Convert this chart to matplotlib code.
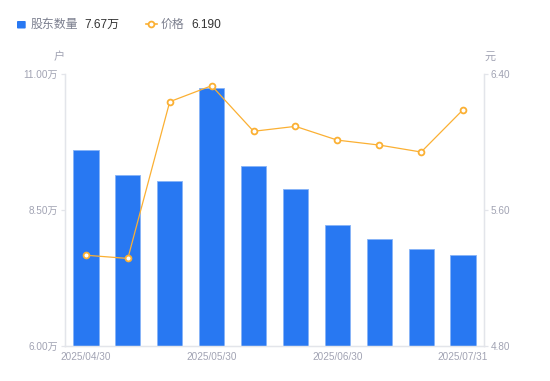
import matplotlib
matplotlib.use("Agg")
import matplotlib.pyplot as plt
from matplotlib.patches import FancyBboxPatch
from matplotlib.lines import Line2D

plt.rcParams['font.family'] = ['Liberation Sans', 'Noto Sans CJK SC', 'DejaVu Sans']

dates = ["2025/04/30", "2025/05/09", "2025/05/20", "2025/05/30", "2025/06/10",
         "2025/06/20", "2025/06/30", "2025/07/10", "2025/07/20", "2025/07/31"]
holders = [9.60, 9.15, 9.03, 10.74, 9.31, 8.88, 8.22, 7.97, 7.79, 7.67]  # 万户
price = [5.334, 5.315, 6.237, 6.331, 6.063, 6.092, 6.011, 5.982, 5.941, 6.190]
left_ticks = [6.00, 8.50, 11.00]
right_ticks = [4.80, 5.60, 6.40]
shown_labels = [0, 3, 6, 9]

W, H = 550, 381
fig = plt.figure(figsize=(W / 100, H / 100), dpi=100)
L, R, T, B = 65, 484, 74, 346
ax = fig.add_axes([L / W, 1 - B / H, (R - L) / W, (B - T) / H])
ax2 = ax.twinx()

grey_axis = "#e3e5ea"
lab_col = "#a1a3b3"
blue = "#2878f2"
orange = "#fbb033"

x = list(range(len(dates)))
ax.bar(x, holders, width=0.6, color=blue, edgecolor="#86b3f7", linewidth=0.6, zorder=2)
ax.set_xlim(-0.5, len(dates) - 0.5)
ax.set_ylim(left_ticks[0], left_ticks[-1])
ax.set_yticks(left_ticks)
ax.set_yticklabels([f"{v:.2f}万" for v in left_ticks])
ax.set_xticks([x[i] for i in shown_labels])
ax.set_xticklabels([dates[i] for i in shown_labels])

ax2.plot(x, price, color=orange, lw=0.9, marker="o", markersize=4.2,
         markerfacecolor="white", markeredgecolor=orange, markeredgewidth=1.3, zorder=3)
ax2.set_ylim(right_ticks[0], right_ticks[-1])
ax2.set_yticks(right_ticks)
ax2.set_yticklabels([f"{v:.2f}" for v in right_ticks])

for a in (ax, ax2):
    for s in a.spines.values():
        s.set_color(grey_axis)
        s.set_linewidth(0.9)
    a.spines['top'].set_visible(False)
    a.tick_params(axis='y', colors=grey_axis, labelcolor=lab_col, labelsize=7.2,
                  length=3, width=0.9, pad=2)
ax.tick_params(axis='x', length=0, labelcolor=lab_col, labelsize=7.2, pad=4)
ax.set_zorder(ax2.get_zorder() - 1)
ax2.patch.set_visible(False)

def fx(px):
    return px / W

def fy(py):
    return 1 - py / H

# axis unit labels
fig.text(fx(59), fy(57), "户", color=lab_col, fontsize=8, ha="center", va="center")
fig.text(fx(490), fy(57), "元", color=lab_col, fontsize=8, ha="center", va="center")

# legend
sq = FancyBboxPatch((fx(17), fy(28.5)), fx(8.7), 7.5 / H,
                    boxstyle="round,pad=0,rounding_size=0.002",
                    transform=fig.transFigure, facecolor=blue, edgecolor="none")
fig.patches.append(sq)
fig.text(fx(31), fy(24.5), "股东数量", color="#7b7f8e", fontsize=8.6, ha="left", va="center")
fig.text(fx(84), fy(24.5), f"{holders[-1]:.2f}万", color="#333333", fontsize=8.6, ha="left", va="center")

fig.lines.append(Line2D([fx(146), fx(156.5)], [fy(24.3), fy(24.3)], transform=fig.transFigure,
                        color=orange, lw=1.2))
fig.lines.append(Line2D([fx(151.3)], [fy(24.3)], transform=fig.transFigure, marker="o",
                        markersize=4.2, markerfacecolor="white", markeredgecolor=orange,
                        markeredgewidth=1.3, linestyle="none"))
fig.text(fx(161), fy(24.5), "价格", color="#7b7f8e", fontsize=8.6, ha="left", va="center")
fig.text(fx(191), fy(24.5), f"{price[-1]:.3f}", color="#333333", fontsize=8.6, ha="left", va="center")

fig.savefig("out.png", dpi=100)
